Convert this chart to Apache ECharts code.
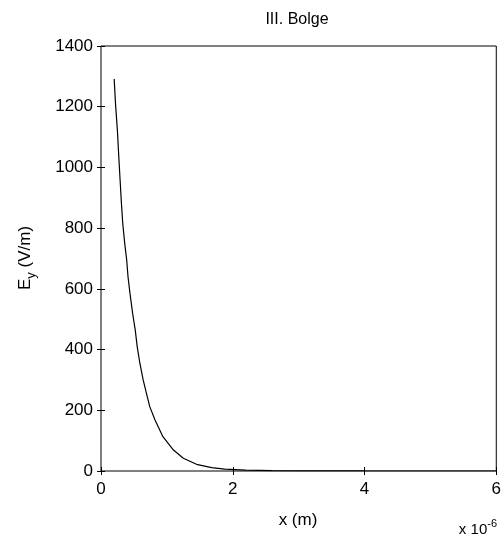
<!DOCTYPE html>
<html>
<head>
<meta charset="utf-8">
<script src="https://cdn.jsdelivr.net/npm/echarts@6/dist/echarts.min.js"></script>
<style>
  html, body { margin: 0; padding: 0; background: #fff; }
  #chart { width: 504px; height: 543px; }
</style>
</head>
<body>
<div id="chart"></div>
<script>
// Field profile in region III: position in micrometres (axis shows x 10^-6 m), E_y in V/m
const xMicro = [0.20, 0.22, 0.25, 0.27, 0.29, 0.31, 0.33, 0.36, 0.39, 0.41, 0.44, 0.48, 0.52, 0.55,
                0.59, 0.64, 0.69, 0.74, 0.82, 0.94, 1.10, 1.25, 1.45, 1.68, 1.88, 2.2, 2.6, 3.0, 4.0, 5.0, 6.0];
const eyValues = [1291, 1211, 1118, 1035, 958, 882, 816, 750, 695, 640, 585, 519, 464, 409,
                  355, 300, 256, 212, 168, 113, 69, 42, 22, 11, 6, 3, 1, 0.5, 0.1, 0, 0];
const xTicks = [0, 2, 4, 6];
const yTicks = [0, 200, 400, 600, 800, 1000, 1200, 1400];

const FONT = 'Liberation Sans, Arial, Helvetica, sans-serif';
const chart = echarts.init(document.getElementById('chart'), null, { renderer: 'canvas' });

const axisCommon = {
  type: 'value',
  axisLine: { show: false },
  axisTick: { show: true, inside: true, length: 4, lineStyle: { color: '#000', width: 1 } },
  splitLine: { show: false }
};
const plain = v => String(v);

chart.setOption({
  animation: false,
  backgroundColor: '#fff',
  grid: { left: 101, right: 7, top: 46, bottom: 72, show: true, borderColor: '#000', borderWidth: 1, backgroundColor: 'transparent' },
  xAxis: [
    Object.assign({}, axisCommon, {
      min: xTicks[0], max: xTicks[xTicks.length - 1], interval: 2, position: 'bottom',
      axisLabel: { color: '#000', fontFamily: FONT, fontSize: 17, margin: 10, formatter: plain }
    }),
    Object.assign({}, axisCommon, {
      min: xTicks[0], max: xTicks[xTicks.length - 1], interval: 2, position: 'top',
      axisLabel: { show: false }
    })
  ],
  yAxis: [
    Object.assign({}, axisCommon, {
      min: yTicks[0], max: yTicks[yTicks.length - 1], interval: 200, position: 'left',
      axisLabel: { color: '#000', fontFamily: FONT, fontSize: 17, margin: 8, formatter: plain }
    }),
    Object.assign({}, axisCommon, {
      min: yTicks[0], max: yTicks[yTicks.length - 1], interval: 200, position: 'right',
      axisLabel: { show: false }
    })
  ],
  series: [{
    type: 'line',
    xAxisIndex: 0,
    yAxisIndex: 0,
    data: xMicro.map((x, i) => [x, eyValues[i]]),
    showSymbol: false,
    smooth: false,
    lineStyle: { color: '#000', width: 1.2 },
    clip: true
  }],
  graphic: [
    {
      type: 'text', x: 297, y: 20,
      style: { text: 'III. Bolge', font: '16px ' + FONT, fill: '#000', align: 'center', verticalAlign: 'middle' }
    },
    {
      type: 'text', x: 298, y: 520,
      style: { text: 'x (m)', font: '17px ' + FONT, fill: '#000', align: 'center', verticalAlign: 'middle' }
    },
    {
      type: 'text', x: 25, y: 258, rotation: Math.PI / 2,
      style: {
        text: '{e|E}{s|y}{e| (V/m)}',
        align: 'center', verticalAlign: 'middle', fill: '#000',
        rich: {
          e: { fontFamily: FONT, fontSize: 17, fill: '#000', lineHeight: 20 },
          s: { fontFamily: FONT, fontSize: 13, fill: '#000', padding: [12, 0, 0, 0] }
        }
      }
    },
    {
      type: 'text', x: 497, y: 530,
      style: {
        text: '{e|x 10}{s|-6}',
        align: 'right', verticalAlign: 'middle', fill: '#000',
        rich: {
          e: { fontFamily: FONT, fontSize: 15, fill: '#000', lineHeight: 18 },
          s: { fontFamily: FONT, fontSize: 11, fill: '#000', padding: [0, 0, 12, 0] }
        }
      }
    }
  ]
});
</script>
</body>
</html>
